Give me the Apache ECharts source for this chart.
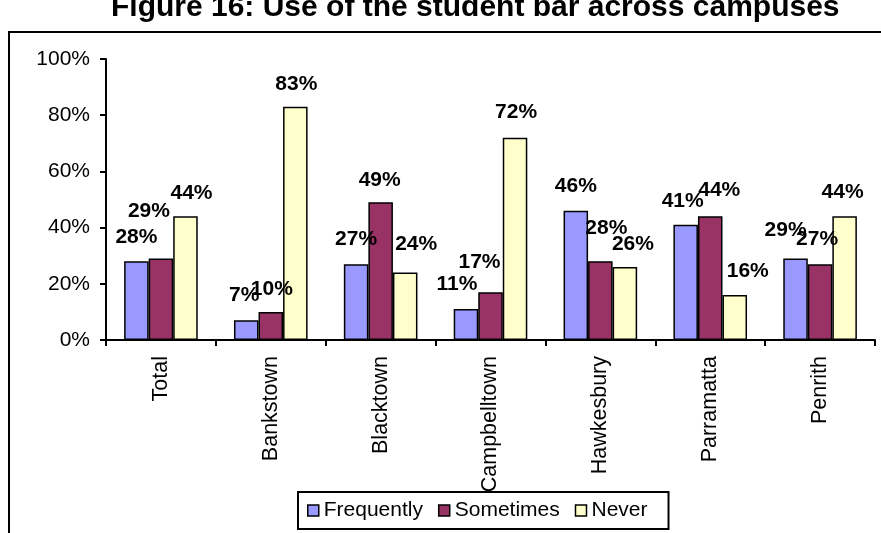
<!DOCTYPE html>
<html>
<head>
<meta charset="utf-8">
<title>Use of the student bar across campuses</title>
<script src="https://cdn.jsdelivr.net/npm/echarts@6/dist/echarts.min.js"></script>
<style>
  html, body { margin: 0; padding: 0; background: #fff; }
  #chart { width: 881px; height: 533px; }
</style>
</head>
<body>
<div id="chart"></div>
<script>
// Campuses along the x axis
const campuses = ['Total', 'Bankstown', 'Blacktown', 'Campbelltown', 'Hawkesbury', 'Parramatta', 'Penrith'];

// Share of students (%) per answer
const frequently = [28, 7, 27, 11, 46, 41, 29];
const sometimes  = [29, 10, 49, 17, 28, 44, 27];
const never      = [44, 83, 24, 72, 26, 16, 44];

// Y axis ticks (%)
const yTicks = [0, 20, 40, 60, 80, 100];

// Hand nudges [dx, dy] for value labels so overlapping ones stay readable
const frequentlyNudge = [[0, 0], [-2, -1], [0, 0], [-9, 0], [0, 0], [-3, 1], [-10, -4]];
const sometimesNudge  = [[-12, -23], [1, 2], [-1, 2], [-11, -6], [6, -9], [9, -2], [-3, 0]];
const neverNudge      = [[6, 1], [1, 2], [11, -4], [1, -1], [8, 2], [13, 1], [-2, 0]];

const FONT = '"Liberation Sans", Arial, sans-serif';

function withLabels(values, nudges) {
  return values.map((v, i) => ({ value: v, label: { offset: nudges[i] } }));
}

function barSeries(name, color, values, nudges) {
  return {
    name: name,
    type: 'bar',
    barGap: '0%',
    barCategoryGap: '33%',
    data: withLabels(values, nudges),
    itemStyle: { color: color, borderColor: '#000', borderWidth: 1.5 },
    label: {
      show: true,
      position: 'top',
      distance: 14,
      formatter: '{c}%',
      color: '#000',
      fontFamily: FONT,
      fontWeight: 'bold',
      fontSize: 21
    },
    emphasis: { disabled: true }
  };
}

const chart = echarts.init(document.getElementById('chart'), null, { renderer: 'canvas' });

chart.setOption({
  animation: false,
  backgroundColor: '#fff',
  title: {
    text: 'Figure 16: Use of the student bar across campuses',
    left: 106,
    top: -12,
    textStyle: { fontFamily: FONT, fontWeight: 'bold', fontSize: 30, color: '#000' }
  },
  graphic: [{
    type: 'rect',
    shape: { x: 9, y: 32, width: 900, height: 600 },
    style: { fill: 'none', stroke: '#000', lineWidth: 2 },
    silent: true,
    z: -1
  }],
  grid: { left: 106, right: 6, top: 59, bottom: 193, containLabel: false },
  legend: {
    data: ['Frequently', 'Sometimes', 'Never'],
    left: 298,
    top: 492,
    padding: [8, 21, 8, 9],
    itemWidth: 11,
    itemHeight: 11,
    itemGap: 15,
    icon: 'rect',
    backgroundColor: '#fff',
    borderColor: '#000',
    borderWidth: 2,
    itemStyle: { borderColor: '#000', borderWidth: 1.5 },
    textStyle: { fontFamily: FONT, fontSize: 21, color: '#000' },
    z: 10
  },
  xAxis: {
    type: 'category',
    data: campuses,
    axisLine: { lineStyle: { color: '#000', width: 2 } },
    axisTick: { show: true, length: 6, alignWithLabel: false, lineStyle: { color: '#000', width: 2 } },
    axisLabel: {
      rotate: 90,
      margin: 16,
      color: '#000',
      fontFamily: FONT,
      fontSize: 21.5,
      interval: 0
    },
    splitLine: { show: false }
  },
  yAxis: {
    type: 'value',
    min: yTicks[0],
    max: yTicks[yTicks.length - 1],
    interval: yTicks[1] - yTicks[0],
    axisLine: { show: true, lineStyle: { color: '#000', width: 2 } },
    axisTick: { show: true, length: 6, lineStyle: { color: '#000', width: 2 } },
    axisLabel: {
      formatter: '{value}%',
      margin: 16,
      color: '#000',
      fontFamily: FONT,
      fontSize: 21
    },
    splitLine: { show: false }
  },
  series: [
    barSeries('Frequently', '#9999FF', frequently, frequentlyNudge),
    barSeries('Sometimes', '#993366', sometimes, sometimesNudge),
    barSeries('Never', '#FFFFCC', never, neverNudge)
  ]
});
</script>
</body>
</html>
